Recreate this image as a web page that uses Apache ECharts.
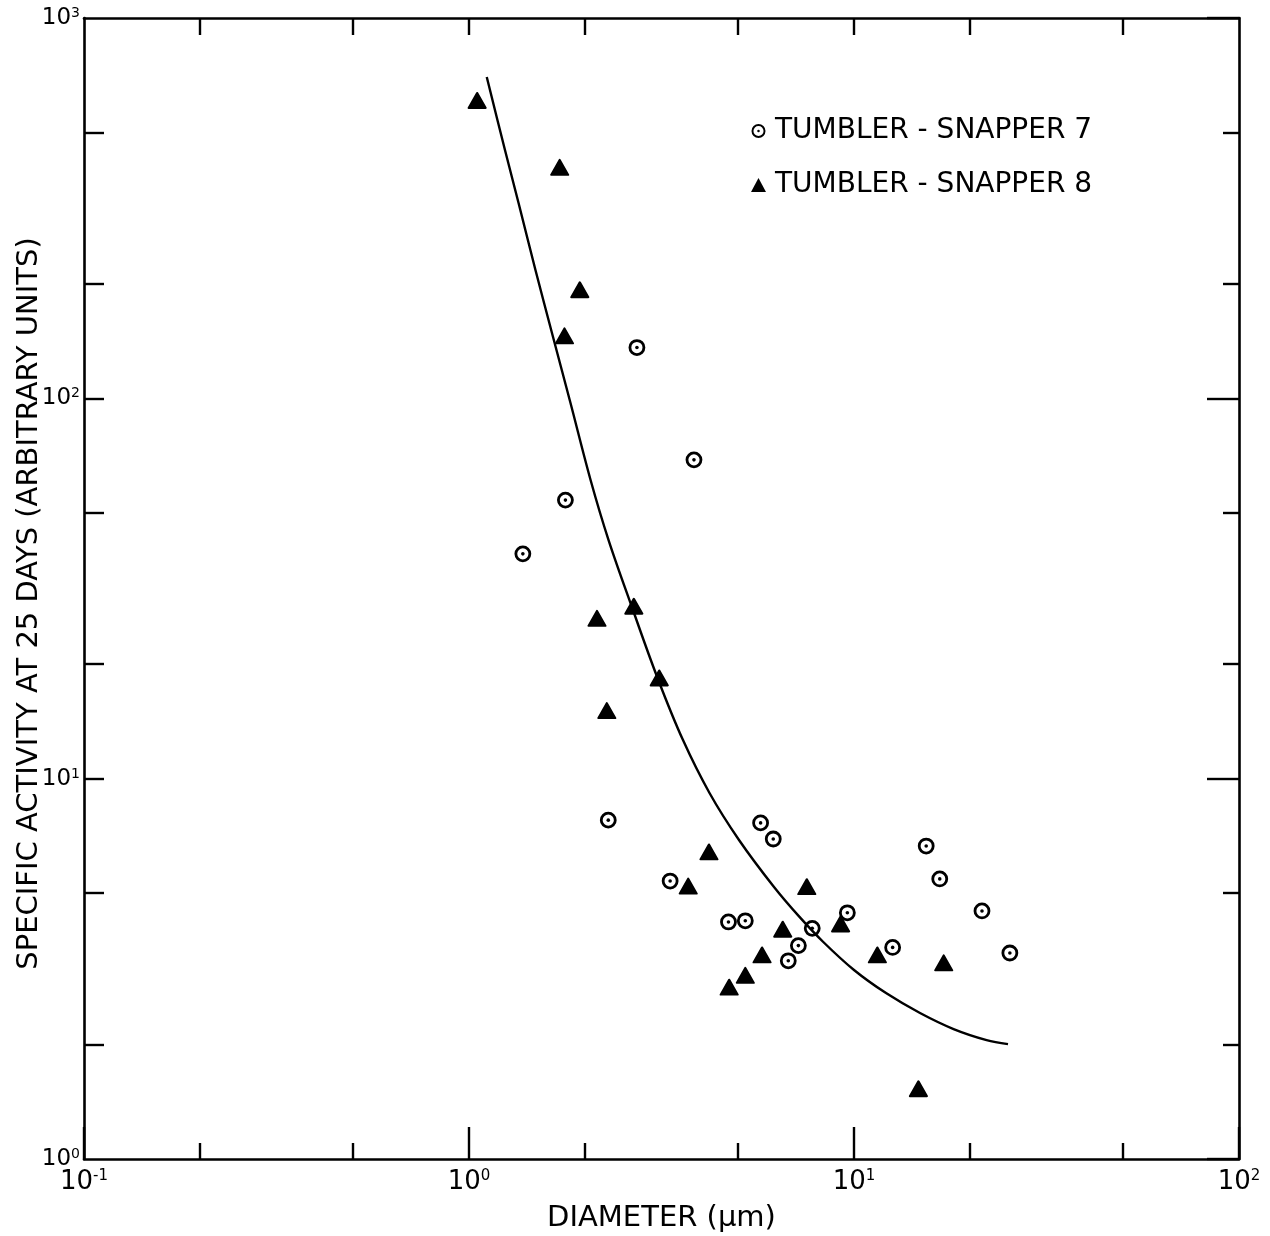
<!DOCTYPE html>
<html><head><meta charset="utf-8">
<script src="https://cdn.jsdelivr.net/npm/echarts@6/dist/echarts.min.js"></script>
<style>html,body{margin:0;padding:0;background:#fff}#c{width:1270px;height:1236px}</style>
</head><body><div id="c"></div>
<script>
// ---- data ----
const ts7X = [2.73, 3.84, 1.78, 1.38, 2.30, 5.72, 6.17, 3.33, 4.72, 5.22, 7.79, 7.17, 6.75, 15.4, 16.7, 21.5, 25.4, 9.61, 12.6];
const ts7Y = [136, 68.9, 54, 39.0, 7.78, 7.65, 6.94, 5.38, 4.20, 4.23, 4.04, 3.64, 3.32, 6.65, 5.45, 4.49, 3.48, 4.44, 3.60];
const ts8X = [1.05, 1.72, 1.94, 1.77, 2.68, 2.15, 3.12, 2.28, 4.20, 3.71, 7.54, 6.53, 5.77, 5.22, 4.74, 9.23, 11.5, 17.1, 14.7];
const ts8Y = [607, 405, 193, 146, 28.4, 26.4, 18.4, 15.1, 6.42, 5.22, 5.20, 4.02, 3.44, 3.04, 2.83, 4.15, 3.44, 3.28, 1.53];
const curveX = [1.112, 1.240, 1.345, 1.488, 1.653, 1.835, 2.069, 2.304, 2.645, 3.088, 3.596, 4.214, 5.027, 6.198, 7.218, 8.322, 10.0, 12.11, 14.84, 18.14, 22.1, 25.12];
const curveY = [699.6, 449.6, 326.3, 217.5, 145.0, 97.2, 61.0, 42.4, 28.4, 18.4, 12.63, 9.17, 6.90, 5.19, 4.33, 3.72, 3.14, 2.73, 2.42, 2.196, 2.054, 2.005];

const xDecades = [0.1, 1, 10, 100];
const xDecadeExp = ['-1', '0', '1', '2'];
const yDecades = [1, 10, 100, 1000];
const yDecadeExp = ['0', '1', '2', '3'];
const xMinorTicks = [0.2, 0.5, 2, 5, 20, 50];
const yMinorTicks = [2, 5, 20, 50, 200, 500];
const xAllTicks = [0.2, 0.5, 1, 2, 5, 10, 20, 50];
const yAllTicks = [2, 5, 10, 20, 50, 100, 200, 500];
const seriesNames = ['TUMBLER - SNAPPER 7', 'TUMBLER - SNAPPER 8'];
const xTitle = 'DIAMETER (\u03bcm)';
const yTitle = 'SPECIFIC ACTIVITY AT 25 DAYS (ARBITRARY UNITS)';

// ---- chart ----
const FONT = 'DejaVu Sans';
const BLACK = '#000';
const zip = (a, b) => a.map((v, i) => [v, b[i]]);
const expLabel = (decs, exps) => v => {
  const i = decs.findIndex(d => Math.abs(d - v) / d < 1e-6);
  return i < 0 ? '' : '{b|10}{s|' + exps[i] + '}';
};
const richX = {
  b: { fontSize: 26, fontFamily: FONT, color: BLACK },
  s: { fontSize: 15, fontFamily: FONT, color: BLACK, verticalAlign: 'top' }
};
const richY = {
  b: { fontSize: 23, fontFamily: FONT, color: BLACK },
  s: { fontSize: 14, fontFamily: FONT, color: BLACK, verticalAlign: 'top' }
};
const ringDot = 'path://M10,0 A10,10 0 1,1 10,20 A10,10 0 1,1 10,0 Z M10,2.8 A7.2,7.2 0 1,0 10,17.2 A7.2,7.2 0 1,0 10,2.8 Z M10,8.2 A1.8,1.8 0 1,1 10,11.8 A1.8,1.8 0 1,1 10,8.2 Z';

const lineSt = { color: BLACK, width: 2.6 };
const tickSt = { color: BLACK, width: 2.4 };
const baseLog = (extra) => Object.assign({
  type: 'log', logBase: 10, nameMoveOverlap: false,
  splitLine: { show: false }, minorTick: { show: false }, minorSplitLine: { show: false }
}, extra);

const chart = echarts.init(document.getElementById('c'), null, { renderer: 'canvas' });
chart.setOption({
  animation: false,
  backgroundColor: '#fff',
  grid: { left: 84, top: 18, width: 1155, height: 1141, containLabel: false, outerBoundsMode: 'none' },
  legend: {
    show: true, orient: 'vertical', left: 751, top: 117, padding: 0,
    itemWidth: 15, itemHeight: 14, itemGap: 26, selectedMode: false,
    textStyle: { fontFamily: FONT, fontSize: 28, color: BLACK, padding: [0, 0, 0, 4] },
    data: [
      { name: seriesNames[0], icon: ringDot, itemStyle: { color: BLACK, borderWidth: 0, opacity: 1 } },
      { name: seriesNames[1], icon: 'triangle', itemStyle: { color: BLACK, borderWidth: 0, opacity: 1 } }
    ]
  },
  xAxis: [
    baseLog({
      position: 'bottom', min: 0.1, max: 100,
      axisLine: { show: true, onZero: false, lineStyle: lineSt },
      axisTick: { show: true, inside: true, length: 32, lineStyle: tickSt, customValues: xDecades },
      axisLabel: { show: true, margin: 10, showMinLabel: true, showMaxLabel: true, customValues: xDecades,
        formatter: expLabel(xDecades, xDecadeExp), rich: richX },
      name: xTitle, nameLocation: 'middle', nameGap: 45,
      nameTextStyle: { fontFamily: FONT, fontSize: 29, color: BLACK }
    }),
    baseLog({
      position: 'bottom', min: 0.1, max: 100,
      axisLine: { show: false, onZero: false },
      axisTick: { show: true, inside: true, length: 16, lineStyle: tickSt, customValues: xMinorTicks },
      axisLabel: { show: false }
    }),
    baseLog({
      position: 'top', min: 0.1, max: 100,
      axisLine: { show: true, onZero: false, lineStyle: lineSt },
      axisTick: { show: true, inside: true, length: 17, lineStyle: tickSt, customValues: xAllTicks },
      axisLabel: { show: false }
    })
  ],
  yAxis: [
    baseLog({
      position: 'left', min: 1, max: 1000,
      axisLine: { show: true, onZero: false, lineStyle: lineSt },
      axisTick: { show: true, inside: true, length: 20, lineStyle: tickSt, customValues: yAllTicks },
      axisLabel: { show: true, margin: 4, showMinLabel: true, showMaxLabel: true, customValues: yDecades,
        formatter: expLabel(yDecades, yDecadeExp), rich: richY },
      name: yTitle, nameLocation: 'middle', nameGap: 40, nameRotate: 90,
      nameTextStyle: { fontFamily: FONT, fontSize: 29, color: BLACK, padding: [0, 30, 0, 0] }
    }),
    baseLog({
      position: 'right', min: 1, max: 1000,
      axisLine: { show: true, onZero: false, lineStyle: lineSt },
      axisTick: { show: true, inside: true, length: 32, lineStyle: tickSt, customValues: yDecades },
      axisLabel: { show: false }
    }),
    baseLog({
      position: 'right', min: 1, max: 1000,
      axisLine: { show: false, onZero: false },
      axisTick: { show: true, inside: true, length: 16, lineStyle: tickSt, customValues: yMinorTicks },
      axisLabel: { show: false }
    })
  ],
  series: [
    {
      name: 'fit', type: 'line', xAxisIndex: 0, yAxisIndex: 0,
      data: zip(curveX, curveY), showSymbol: false, symbol: 'none', smooth: 0.35,
      lineStyle: { color: BLACK, width: 2.4, opacity: 1 }, silent: true, emphasis: { disabled: true }
    },
    {
      name: seriesNames[1], type: 'scatter', xAxisIndex: 0, yAxisIndex: 0,
      data: zip(ts8X, ts8Y), symbol: 'triangle', symbolSize: [17, 15],
      itemStyle: { color: BLACK, borderColor: BLACK, borderWidth: 2, borderJoin: 'round', opacity: 1 },
      emphasis: { disabled: true }
    },
    {
      name: seriesNames[0], type: 'scatter', xAxisIndex: 0, yAxisIndex: 0,
      data: zip(ts7X, ts7Y), symbol: 'circle', symbolSize: 14,
      itemStyle: { color: '#fff', borderColor: BLACK, borderWidth: 2.8, opacity: 1 },
      emphasis: { disabled: true }
    },
    {
      name: seriesNames[0] + ' centre', type: 'scatter', xAxisIndex: 0, yAxisIndex: 0,
      data: zip(ts7X, ts7Y), symbol: 'circle', symbolSize: 3.6,
      itemStyle: { color: BLACK, opacity: 1 }, silent: true, emphasis: { disabled: true }
    }
  ]
});
</script>
</body></html>
